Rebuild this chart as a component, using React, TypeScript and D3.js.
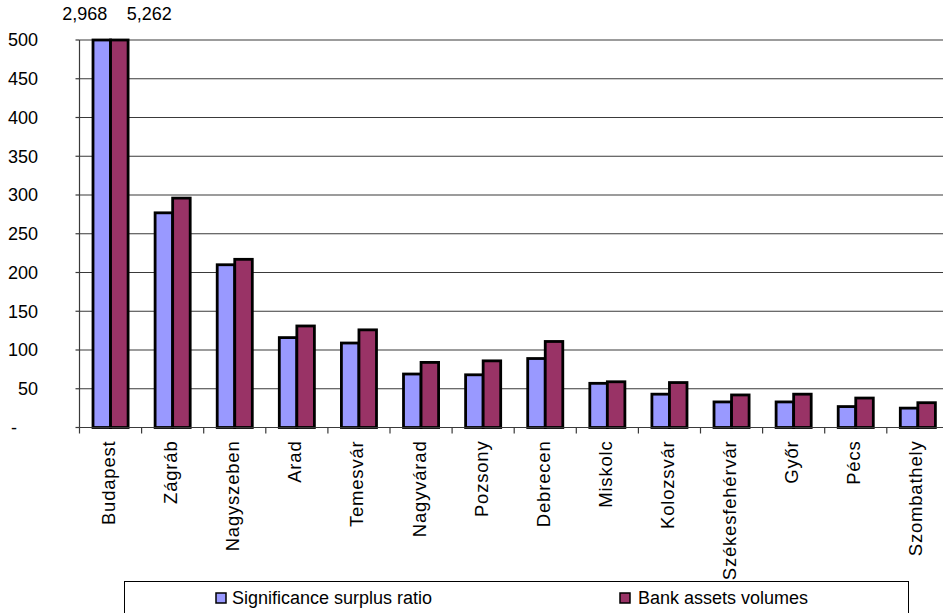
import React from "react";
import * as d3 from "d3";

const categories = [
  "Budapest", "Zágráb", "Nagyszeben", "Arad", "Temesvár", "Nagyvárad", "Pozsony",
  "Debrecen", "Miskolc", "Kolozsvár", "Székesfehérvár", "Győr", "Pécs", "Szombathely",
];
const seriesNames = ["Significance surplus ratio", "Bank assets volumes"];
const significance = [2968, 277, 210, 116, 109, 69, 68, 89, 57, 43, 33, 33, 27, 25];
const bankAssets = [5262, 296, 217, 131, 126, 84, 86, 111, 59, 58, 42, 43, 38, 32];
const yTicks = [0, 50, 100, 150, 200, 250, 300, 350, 400, 450, 500];
const colors = ["#9999FF", "#993366"];

const W = 943;
const H = 613;
const FONT = "'Liberation Sans', Arial, sans-serif";

export default function App() {
  const yMax = 500;
  const y = d3.scaleLinear().domain([0, yMax]).range([427.5, 40]);
  const x = d3.scaleBand<string>().domain(categories).range([79.5, 79.5 + 62.1 * categories.length]);
  const inner = d3.scaleBand<number>().domain([0, 1]).range([0, x.bandwidth()]).paddingInner(0).paddingOuter(0.77);
  const fmt = d3.format(",");
  const series = [significance, bankAssets];

  return (
    <svg width={W} height={H} style={{ position: "absolute", left: 0, top: 0, background: "#fff" }} fontFamily={FONT}>
      {/* gridlines */}
      {yTicks.filter((t) => t > 0).map((t) => (
        <line key={t} x1={79.5} x2={W} y1={y(t)} y2={y(t)} stroke="#3a3a3a" strokeWidth={1.2} />
      ))}
      {/* y ticks and labels */}
      {yTicks.map((t) => (
        <g key={"yt" + t}>
          <line x1={75.5} x2={79.5} y1={y(t)} y2={y(t)} stroke="#3a3a3a" strokeWidth={1.2} />
          <text x={t === 0 ? 17 : 38} y={y(t)} dy="0.35em" textAnchor="end" fontSize={18} fill="#000">
            {t === 0 ? "-" : t}
          </text>
        </g>
      ))}
      {/* bars */}
      {categories.map((c, i) => (
        <g key={c} transform={`translate(${x(c)},0)`}>
          {series.map((s, k) => {
            const v = Math.min(s[i], yMax);
            return (
              <rect
                key={k}
                x={inner(k)!}
                y={y(v)}
                width={inner.bandwidth()}
                height={y(0) - y(v)}
                fill={colors[k]}
                stroke="#000"
                strokeWidth={2.8}
              />
            );
          })}
        </g>
      ))}
      {/* values of clipped bars */}
      {series.map((s, k) =>
        s[0] > yMax ? (
          <text
            key={"lbl" + k}
            x={x(categories[0])! + inner(k)! + inner.bandwidth() / 2 + (k === 0 ? -17 : 30)}
            y={20}
            textAnchor="middle"
            fontSize={18}
          >
            {fmt(s[0])}
          </text>
        ) : null
      )}
      {/* axes */}
      <line x1={79.5} x2={79.5} y1={40} y2={y(0)} stroke="#3a3a3a" strokeWidth={1.2} />
      <line x1={79.5} x2={W} y1={y(0)} y2={y(0)} stroke="#3a3a3a" strokeWidth={1.2} />
      {categories.map((c) => (
        <line key={"xt" + c} x1={x(c)!} x2={x(c)!} y1={y(0)} y2={y(0) + 6} stroke="#3a3a3a" strokeWidth={1.2} />
      ))}
      {categories.map((c) => (
        <text
          key={"xl" + c}
          transform={`translate(${x(c)! + x.bandwidth() / 2 - 2},${y(0) + 13}) rotate(-90)`}
          dy="0.35em"
          textAnchor="end"
          fontSize={18.5}
          letterSpacing={0.8}
        >
          {c}
        </text>
      ))}
      {/* legend */}
      <rect x={124.5} y={581.5} width={784} height={40} fill="#fff" stroke="#000" strokeWidth={1} />
      {seriesNames.map((n, k) => {
        const lx = k === 0 ? 216 : 620;
        return (
          <g key={n}>
            <rect x={lx} y={593} width={10} height={10} fill={colors[k]} stroke="#000" strokeWidth={1.5} />
            <text x={lx + (k === 0 ? 16 : 18)} y={598} dy="0.35em" fontSize={18}>
              {n}
            </text>
          </g>
        );
      })}
    </svg>
  );
}
